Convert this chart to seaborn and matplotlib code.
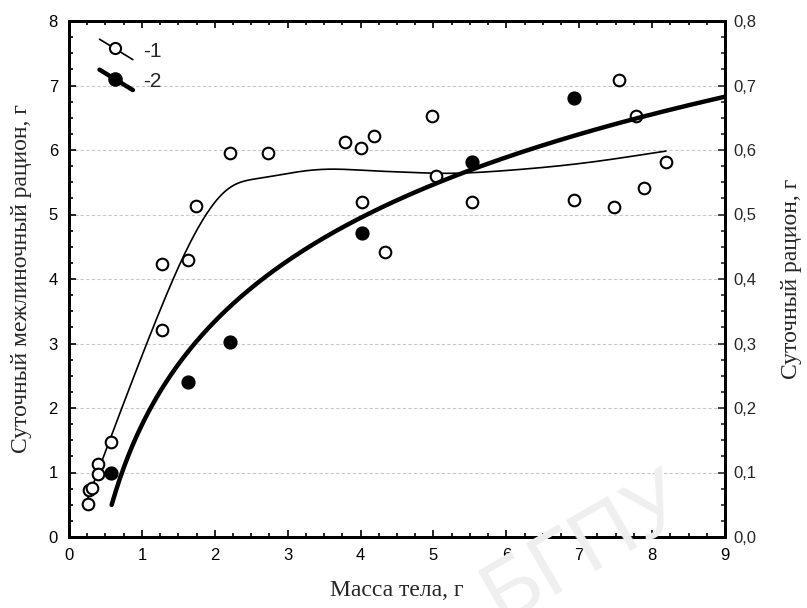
import numpy as np
import pandas as pd
import matplotlib
matplotlib.use("Agg")
import matplotlib.pyplot as plt
import seaborn as sns
from matplotlib.lines import Line2D
from matplotlib.legend_handler import HandlerLine2D
from matplotlib.ticker import MultipleLocator, FuncFormatter

# ---- data ----
open_x = [0.26, 0.27, 0.32, 0.40, 0.40, 0.57, 1.27, 1.27, 1.63, 1.74, 2.21, 2.73, 3.78,
          4.00, 4.02, 4.19, 4.33, 4.98, 5.04, 5.53, 6.93, 7.48, 7.54, 7.78, 7.89, 8.19]
open_y = [0.51, 0.73, 0.76, 1.13, 0.98, 1.47, 3.21, 4.23, 4.29, 5.13, 5.96, 5.96, 6.12,
          6.03, 5.19, 6.22, 4.42, 6.53, 5.60, 5.19, 5.22, 5.11, 7.09, 6.53, 5.41, 5.81]
filled_x = [0.57, 1.63, 2.21, 4.02, 5.53, 6.93]
filled_y = [0.100, 0.240, 0.303, 0.472, 0.581, 0.680]

x_ticks = [0, 1, 2, 3, 4, 5, 6, 7, 8, 9]
left_ticks = [0, 1, 2, 3, 4, 5, 6, 7, 8]
right_ticks = [0.0, 0.1, 0.2, 0.3, 0.4, 0.5, 0.6, 0.7, 0.8]
legend_labels = ["-1", "-2"]

x_label = "Масса тела, г"
left_label = "Суточный межлиночный рацион, г"
right_label = "Суточный рацион, г"


# ---- fitted curves (variable-bandwidth local linear smoother; log regression) ----
def local_linear(xs, ys, grid, h0=0.36, h1=0.12):
    xs = np.asarray(xs, float); ys = np.asarray(ys, float)
    out = []
    for g in grid:
        h = h0 + h1 * g
        w = np.exp(-0.5 * ((xs - g) / h) ** 2)
        W = w.sum()
        mx = (w * xs).sum() / W
        my = (w * ys).sum() / W
        sxx = (w * (xs - mx) ** 2).sum()
        sxy = (w * (xs - mx) * (ys - my)).sum()
        b = sxy / sxx if sxx > 1e-12 else 0.0
        out.append(my + b * (g - mx))
    return np.array(out)


grid1 = np.linspace(min(open_x), max(open_x), 400)
fit1 = local_linear(open_x, open_y, grid1)
coef = np.polyfit(np.log(filled_x), filled_y, 1)
grid2 = np.linspace(0.585, 9, 300)
fit2 = coef[0] * np.log(grid2) + coef[1]

df_open = pd.DataFrame({"x": open_x, "y": open_y})
df_filled = pd.DataFrame({"x": filled_x, "y": filled_y})
df_fit1 = pd.DataFrame({"x": grid1, "y": fit1})
df_fit2 = pd.DataFrame({"x": grid2, "y": fit2})

sns.set_style("ticks")
plt.rcParams["font.family"] = ["Liberation Sans", "DejaVu Sans"]

fig = plt.figure(figsize=(8.07, 6.08), dpi=100)
ax = fig.add_axes([69 / 807, 71 / 608, 656 / 807, 516 / 608])
ax2 = ax.twinx()

# watermark
fig.text(585 / 807, 1 - 548 / 608, "БГПУ", fontsize=62, color="#efefef", rotation=30,
         ha="center", va="center", family=["Liberation Sans"], zorder=0)
ax.patch.set_alpha(0)
ax2.patch.set_alpha(0)

ax.yaxis.grid(True, linestyle=(0, (3, 2)), color="#c8c8c8", linewidth=0.8)
ax.set_axisbelow(True)

sns.lineplot(data=df_fit1, x="x", y="y", ax=ax, color="black", linewidth=1.2, zorder=3)
sns.scatterplot(data=df_open, x="x", y="y", ax=ax, marker="o", s=70,
                facecolor="white", edgecolor="black", linewidth=1.5, zorder=4)
sns.lineplot(data=df_fit2, x="x", y="y", ax=ax2, color="black", linewidth=3.2, zorder=3)
sns.scatterplot(data=df_filled, x="x", y="y", ax=ax2, marker="o", s=85,
                color="black", edgecolor="black", linewidth=1, zorder=4)

ax.set_xlim(0, 9)
ax.set_ylim(0, 8)
ax2.set_ylim(0, 0.8)
ax.set_xticks(x_ticks)
ax.set_yticks(left_ticks)
ax2.set_yticks(right_ticks)
ax.xaxis.set_minor_locator(MultipleLocator(0.25))
ax.yaxis.set_minor_locator(MultipleLocator(0.25))
ax2.yaxis.set_minor_locator(MultipleLocator(0.025))
ax2.yaxis.set_major_formatter(FuncFormatter(lambda v, p: f"{v:.1f}".replace(".", ",")))

ax.tick_params(axis="both", which="both", direction="in", top=True, right=False,
               labelsize=12, width=1.2, colors="black")
ax.tick_params(which="major", length=5)
ax.tick_params(which="minor", length=3)
ax2.tick_params(axis="y", which="both", direction="in", labelsize=12, width=1.2)
ax2.tick_params(which="major", length=5)
ax2.tick_params(which="minor", length=3)
ax.tick_params(axis="x", pad=8)
ax.tick_params(axis="y", pad=8)
ax2.tick_params(axis="y", pad=6)

for a in (ax, ax2):
    for s in a.spines.values():
        s.set_linewidth(2)
        s.set_color("black")
        s.set_visible(True)

ax.set_xlabel(x_label, family=["Liberation Serif"], fontsize=17, labelpad=12)
ax.set_ylabel(left_label, family=["Liberation Serif"], fontsize=17, labelpad=12)
ax2.set_ylabel(right_label, family=["Liberation Serif"], fontsize=17, labelpad=18)


class DiagHandler(HandlerLine2D):
    def create_artists(self, legend, orig_handle, xdescent, ydescent, width, height,
                       fontsize, trans):
        x0, x1 = -xdescent, -xdescent + width
        y0, y1 = -ydescent + height * 1.2, -ydescent - height * 0.2
        line = Line2D([x0, x1], [y0, y1], color="black",
                      linewidth=orig_handle.get_linewidth())
        mk = Line2D([x0 + 0.45 * width], [y0 + 0.45 * (y1 - y0)],
                    marker="o", linestyle="none",
                    markersize=orig_handle.get_markersize(),
                    markerfacecolor=orig_handle.get_markerfacecolor(),
                    markeredgecolor="black", markeredgewidth=1.5)
        line.set_transform(trans)
        mk.set_transform(trans)
        return [line, mk]


h1 = Line2D([], [], color="black", linewidth=1.2, marker="o", markersize=8,
            markerfacecolor="white")
h2 = Line2D([], [], color="black", linewidth=3.2, marker="o", markersize=9,
            markerfacecolor="black")
leg = ax.legend([h1, h2], legend_labels, loc="upper left", bbox_to_anchor=(0.037, 0.972),
                frameon=False, handlelength=1.6, handletextpad=0.5, labelspacing=0.55,
                fontsize=15, borderaxespad=0, borderpad=0.3,
                handler_map={Line2D: DiagHandler()})

fig.savefig("out.png", dpi=100)
